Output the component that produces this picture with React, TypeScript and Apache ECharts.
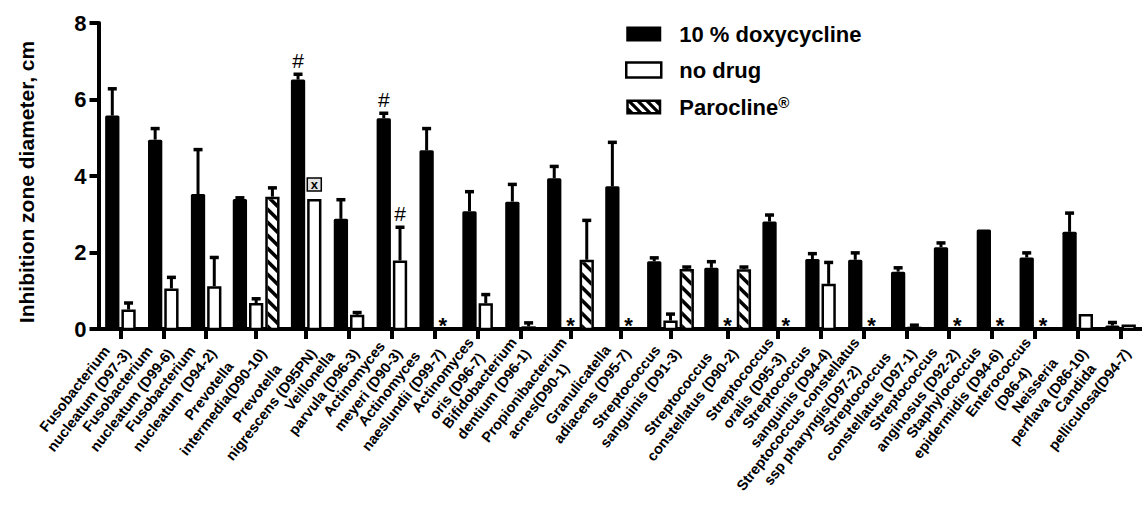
import React, { useEffect, useRef } from 'react';
import * as echarts from 'echarts';

const FONT = "'Liberation Sans', Arial, Helvetica, sans-serif";

const categories: string[] = [
  'Fusobacterium\nnucleatum (D97-3)',
  'Fusobacterium\nnucleatum (D99-6)',
  'Fusobacterium\nnucleatum (D94-2)',
  'Prevotella\nintermedia(D90-10)',
  'Prevotella\nnigrescens (D95PN)',
  'Veillonella\nparvula (D96-3)',
  'Actinomyces\nmeyeri (D90-3)',
  'Actinomyces\nnaeslundii (D99-7)',
  'Actinomyces\noris (D96-7)',
  'Bifidobacterium\ndentium (D96-1)',
  'Propionibacterium\nacnes(D90-1)',
  'Granulicatella\nadiacens (D95-7)',
  'Streptococcus\nsanguinis (D91-3)',
  'Streptococcus\nconstellatus (D90-2)',
  'Streptococcus\noralis (D95-3)',
  'Streptococcus\nsanguinis (D94-4)',
  'Streptococcus constellatus\nssp pharyngis(D97-2)',
  'Streptococcus\nconstellatus (D97-1)',
  'Streptococcus\nanginosus (D92-2)',
  'Staphylococcus\nepidermidis (D94-6)',
  'Enterococcus\n(D86-4)',
  'Neisseria\nperflava (D86-10)',
  'Candida\npelliculosa(D94-7)',
];

const seriesNames = ['10 % doxycycline', 'no drug', 'Parocline®'];

const doxycycline = [5.58, 4.95, 3.53, 3.40, 6.52, 2.88, 5.51, 4.67, 3.08, 3.33, 3.94, 3.73, 1.77, 1.60, 2.81, 1.83, 1.81, 1.50, 2.14, 2.60, 1.87, 2.54, 0.09];
const doxycyclineSem = [0.70, 0.29, 1.16, 0.03, 0.14, 0.50, 0.13, 0.57, 0.51, 0.45, 0.31, 1.15, 0.09, 0.16, 0.17, 0.14, 0.18, 0.10, 0.11, 0, 0.12, 0.49, 0.08];
const noDrug = [0.51, 1.06, 1.12, 0.68, 3.40, 0.37, 1.79, 0, 0.67, 0.07, 0, 0, 0.22, 0, 0, 1.18, 0, 0.06, 0, 0, 0, 0.39, 0.12];
const noDrugSem = [0.17, 0.29, 0.75, 0.11, 0, 0.06, 0.87, 0, 0.23, 0.09, 0, 0, 0.17, 0, 0, 0.56, 0, 0.04, 0, 0, 0, 0, 0];
const parocline: (number | null)[] = [null, null, null, 3.46, null, null, null, null, null, null, 1.81, null, 1.57, 1.56, null, null, null, null, null, null, null, null, null];
const paroclineSem = [0, 0, 0, 0.23, 0, 0, 0, 0, 0, 0, 1.03, 0, 0.05, 0.06, 0, 0, 0, 0, 0, 0, 0, 0, 0];

const doxycyclineMarks = ['', '', '', '', '#', '', '#', '', '', '', '', '', '', '', '', '', '', '', '', '', '', '', ''];
const noDrugMarks = ['', '', '', '', '⊠', '', '#', '*', '', '', '*', '*', '', '*', '*', '', '*', '', '*', '*', '*', '', ''];
const paroclineMarks = categories.map(() => '');

// layout constants (style, not data)
const SLOT = 14.5;
const GROUP_GAP = 14.5;
const START = 0.5;
const BAR_PITCH = 16.5;
const BAR_W = 14.5;

const nBars = parocline.map((p) => (p == null ? 2 : 3));
const centers: number[] = [];
let acc = START;
nBars.forEach((n) => {
  const w = n * SLOT + GROUP_GAP;
  centers.push(acc + w / 2);
  acc += w;
});
const axisMax = acc;

type Pt = [number, number];
function clipHalf(pts: Pt[], axis: 0 | 1, bound: number, keepGE: boolean): Pt[] {
  const res: Pt[] = [];
  const ins = (p: Pt) => (keepGE ? p[axis] >= bound : p[axis] <= bound);
  for (let i = 0; i < pts.length; i++) {
    const a = pts[i];
    const b = pts[(i + 1) % pts.length];
    const ia = ins(a);
    const ib = ins(b);
    if (ia) res.push(a);
    if (ia !== ib) {
      const t = (bound - a[axis]) / (b[axis] - a[axis]);
      res.push([a[0] + t * (b[0] - a[0]), a[1] + t * (b[1] - a[1])]);
    }
  }
  return res;
}
function clipRect(poly: Pt[], x0: number, y0: number, x1: number, y1: number): Pt[] {
  let p = clipHalf(poly, 0, x0, true);
  if (p.length) p = clipHalf(p, 0, x1, false);
  if (p.length) p = clipHalf(p, 1, y0, true);
  if (p.length) p = clipHalf(p, 1, y1, false);
  return p;
}
function hatchBands(x0: number, y0: number, x1: number, y1: number, pitch: number, thick: number): Pt[][] {
  const polys: Pt[][] = [];
  if (x1 <= x0 || y1 <= y0) return polys;
  const kMax = y1 - x0;
  for (let k = kMax; k > y0 - x1 - pitch; k -= pitch) {
    const t1 = x0 - 60;
    const t2 = x1 + 60;
    const quad: Pt[] = [[t1, t1 + k - thick], [t2, t2 + k - thick], [t2, t2 + k], [t1, t1 + k]];
    const c = clipRect(quad, x0, y0, x1, y1);
    if (c.length >= 3) polys.push(c);
  }
  return polys;
}

const hatchIcon = (() => {
  const W = 35, H = 15, b = 2.5;
  let d = `M0 0 H${W} V${H} H0 Z M${b} ${b} V${H - b} H${W - b} V${b} Z`;
  hatchBands(b, b, W - b, H - b, 9, 4.5).forEach((poly) => {
    d += ' M' + poly.map((p) => `${p[0].toFixed(2)} ${p[1].toFixed(2)}`).join(' L') + ' Z';
  });
  return 'path://' + d;
})();

function seriesData(values: (number | null)[], sems: number[], slot: number) {
  const out: number[][] = [];
  values.forEach((v, i) => {
    if (v == null) return;
    const x = centers[i] + (slot - (nBars[i] - 1) / 2) * BAR_PITCH;
    out.push([x, v, sems[i] || 0, i]);
  });
  return out;
}

function makeRender(kind: 'doxy' | 'nodrug' | 'paro', marks: string[]) {
  return (_params: any, api: any) => {
    const x = api.value(0) as number;
    const v = api.value(1) as number;
    const sem = api.value(2) as number;
    const idx = api.value(3) as number;
    const base = api.coord([x, 0]);
    const top = api.coord([x, v]);
    const w = api.size([BAR_W, 0])[0];
    const left = base[0] - w / 2;
    const children: any[] = [];
    if (v > 0) {
      if (kind === 'doxy') {
        children.push({
          type: 'rect',
          shape: { x: left, y: top[1], width: w, height: base[1] - top[1], r: [1.5, 1.5, 0, 0] },
          style: { fill: '#000' },
        });
      } else {
        const lw = 2.5;
        children.push({
          type: 'rect',
          shape: { x: left + lw / 2, y: top[1] + lw / 2, width: w - lw, height: Math.max(0, base[1] - top[1] - lw / 2) },
          style: { fill: '#fff', stroke: '#000', lineWidth: lw },
        });
        if (kind === 'paro') {
          hatchBands(left + lw, top[1] + lw, left + w - lw, base[1], 13, 5).forEach((poly) => {
            children.push({ type: 'polygon', shape: { points: poly }, style: { fill: '#000' } });
          });
        }
      }
    }
    let yRef = top[1];
    if (sem > 0) {
      const errTop = api.coord([x, v + sem])[1];
      yRef = errTop;
      children.push({
        type: 'line',
        shape: { x1: base[0], y1: top[1], x2: base[0], y2: errTop },
        style: { stroke: '#000', lineWidth: 3 },
      });
      children.push({
        type: 'line',
        shape: { x1: base[0] - 4.5, y1: errTop, x2: base[0] + 4.5, y2: errTop },
        style: { stroke: '#000', lineWidth: 3.5 },
      });
    }
    const mark = marks[idx];
    if (mark === '#') {
      children.push({
        type: 'text',
        x: base[0],
        y: yRef - 3,
        style: {
          text: '#', fontSize: 21, fontFamily: FONT, fill: '#000',
          align: 'center', textAlign: 'center', verticalAlign: 'bottom', textVerticalAlign: 'bottom',
        },
      });
    } else if (mark === '*') {
      children.push({
        type: 'text',
        x: base[0],
        y: base[1] + 7,
        style: {
          text: '*', fontSize: 22, fontWeight: 'bold', fontFamily: FONT, fill: '#000',
          align: 'center', textAlign: 'center', verticalAlign: 'bottom', textVerticalAlign: 'bottom',
        },
      });
    } else if (mark === '⊠') {
      const bw = 14, bh = 13;
      const by = yRef - 8 - bh;
      children.push({
        type: 'rect',
        shape: { x: base[0] - bw / 2, y: by, width: bw, height: bh },
        style: { fill: '#e4e4e4', stroke: '#000', lineWidth: 1.5 },
      });
      children.push({
        type: 'text',
        x: base[0],
        y: by + bh / 2,
        style: {
          text: 'x', fontSize: 13, fontWeight: 'bold', fontFamily: FONT, fill: '#000',
          align: 'center', textAlign: 'center', verticalAlign: 'middle', textVerticalAlign: 'middle',
        },
      });
    }
    return { type: 'group', children };
  };
}

function labelFor(value: number): string {
  let best = 0;
  let bd = Infinity;
  centers.forEach((c, i) => {
    const d = Math.abs(c - value);
    if (d < bd) { bd = d; best = i; }
  });
  return categories[best]
    .split('\n')
    .map((l) => `{c|${l}}`)
    .join('\n');
}

export default function App() {
  const ref = useRef<HTMLDivElement>(null);
  useEffect(() => {
    if (!ref.current) return;
    const chart = echarts.init(ref.current, null, { renderer: 'svg' });
    const option: any = {
      animation: false,
      backgroundColor: '#fff',
      textStyle: { fontFamily: FONT },
      grid: { left: 98.5, top: 23, width: axisMax, height: 306 },
      legend: {
        orient: 'vertical',
        left: 625,
        top: 23,
        padding: 0,
        itemWidth: 35,
        itemHeight: 15,
        itemGap: 14,
        selectedMode: false,
        data: [
          { name: seriesNames[0], icon: 'rect', itemStyle: { color: '#000', borderWidth: 0 } },
          { name: seriesNames[1], icon: 'rect', itemStyle: { color: '#fff', borderColor: '#000', borderWidth: 2.5 } },
          { name: seriesNames[2], icon: hatchIcon, itemStyle: { color: '#000', borderWidth: 0 } },
        ],
        formatter: (name: string) =>
          name === 'Parocline®' ? '{n|Parocline}{r|®}' : `{n|${name}}`,
        textStyle: {
          color: '#000',
          fontFamily: FONT,
          fontSize: 22,
          fontWeight: 'bold',
          rich: {
            n: { fontSize: 22, fontWeight: 'bold', fontFamily: FONT, color: '#000', lineHeight: 24, padding: [0, 0, 0, 13] },
            r: { fontSize: 15, fontWeight: 'bold', fontFamily: FONT, color: '#000', lineHeight: 15, verticalAlign: 'top' },
          },
        },
      },
      xAxis: {
        type: 'value',
        min: 0,
        max: axisMax,
        axisLine: { show: true, lineStyle: { color: '#000', width: 4 } },
        axisTick: { show: true, customValues: centers, length: 10, lineStyle: { color: '#000', width: 4 } },
        axisLabel: {
          customValues: centers,
          rotate: 52,
          margin: 16,
          color: '#000',
          fontSize: 14.5,
          fontWeight: 'bold',
          fontFamily: FONT,
          formatter: (v: number) => labelFor(v),
          rich: {
            c: { align: 'center', fontSize: 14.5, fontWeight: 'bold', fontFamily: FONT, color: '#000', lineHeight: 18 },
          },
        },
        splitLine: { show: false },
      },
      yAxis: {
        type: 'value',
        min: 0,
        max: 8,
        interval: 2,
        name: 'Inhibition zone diameter, cm',
        nameLocation: 'middle',
        nameGap: 62,
        nameTextStyle: { color: '#000', fontSize: 21, fontWeight: 'bold', fontFamily: FONT, padding: [0, 12, 0, 0] },
        axisLine: { show: true, lineStyle: { color: '#000', width: 4 } },
        axisTick: { show: true, length: 9, lineStyle: { color: '#000', width: 4 } },
        axisLabel: { color: '#000', fontSize: 22, fontWeight: 'bold', fontFamily: FONT, margin: 12 },
        splitLine: { show: false },
      },
      series: [
        {
          type: 'custom',
          name: seriesNames[0],
          itemStyle: { color: '#000' },
          encode: { x: 0, y: 1 },
          renderItem: makeRender('doxy', doxycyclineMarks),
          data: seriesData(doxycycline, doxycyclineSem, 0),
        },
        {
          type: 'custom',
          name: seriesNames[1],
          itemStyle: { color: '#fff', borderColor: '#000', borderWidth: 2.5 },
          encode: { x: 0, y: 1 },
          renderItem: makeRender('nodrug', noDrugMarks),
          data: seriesData(noDrug, noDrugSem, 1),
        },
        {
          type: 'custom',
          name: seriesNames[2],
          itemStyle: { color: '#000' },
          encode: { x: 0, y: 1 },
          renderItem: makeRender('paro', paroclineMarks),
          data: seriesData(parocline, paroclineSem, 2),
        },
      ],
    };
    chart.setOption(option);
    return () => chart.dispose();
  }, []);
  return (
    <div
      ref={ref}
      style={{ position: 'fixed', left: 0, top: 0, width: 1142, height: 515, background: '#fff' }}
    />
  );
}
